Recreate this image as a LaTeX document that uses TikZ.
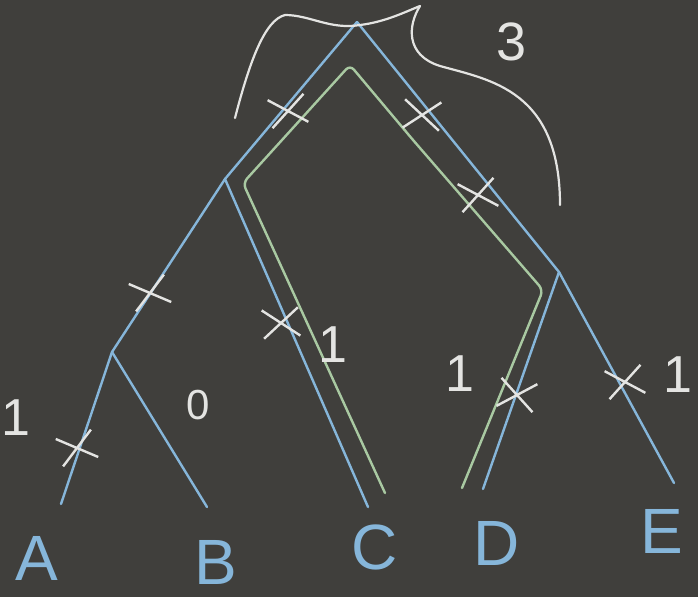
\documentclass[tikz,border=0pt]{standalone}
\usepackage{fontspec}
\setmainfont{Liberation Sans}
\usetikzlibrary{shapes.misc}
\definecolor{board}{HTML}{403F3C}
\definecolor{chalkblue}{HTML}{86B6DA}
\definecolor{chalkgreen}{HTML}{A9C9A2}
\definecolor{chalkwhite}{HTML}{E4E4E2}
\tikzset{
  blueline/.style={draw=chalkblue, line width=2.4pt, line cap=round, line join=round},
  greenline/.style={draw=chalkgreen, line width=2.4pt, line cap=round, line join=round, rounded corners=6pt},
  chalkx/.style={cross out, draw=chalkwhite, line width=2.4pt, minimum width=34pt, minimum height=26pt, inner sep=0pt},
  numlabel/.style={text=chalkwhite, font=\fontsize{52}{52}\selectfont, inner sep=0pt},
  leaflabel/.style={text=chalkblue, font=\fontsize{64}{64}\selectfont, inner sep=0pt},
  braceline/.style={draw=chalkwhite, line width=2.2pt, line cap=round}
}
\begin{document}
\begin{tikzpicture}[x=1pt, y=-1pt]
\fill[board] (0,0) rectangle (698,597);
\useasboundingbox (0,0) rectangle (698,597);
% tree coordinates
\coordinate (root) at (357,22);
\coordinate (abc) at (225,179);
\coordinate (ab) at (112,352);
\coordinate (de) at (559,272);
\coordinate (a) at (61,504);
\coordinate (b) at (207,507);
\coordinate (c) at (368,507);
\coordinate (d) at (483,489);
\coordinate (e) at (674,483);
% blue tree
\draw[blueline] (root) -- (abc) -- (ab) -- (a);
\draw[blueline] (ab) -- (b);
\draw[blueline] (abc) -- (c);
\draw[blueline] (root) -- (de) -- (d);
\draw[blueline] (de) -- (e);
% green path C..D
\coordinate (gc) at (385,493);
\coordinate (gl) at (243,183);
\coordinate (gt) at (350,65);
\coordinate (gm) at (413,140);
\coordinate (gr) at (543,290);
\coordinate (gd) at (462,488);
\draw[greenline] (gc) -- (gl) -- (gt) -- (gm) -- (gr) -- (gd);
% white brace / arc
\draw[braceline] (235,118) .. controls (250,60) and (265,20) .. (285,15)
  .. controls (310,15) and (330,30) .. (360,25)
  .. controls (385,22) and (405,12) .. (420,6);
\draw[braceline] (420,6) .. controls (408,25) and (405,55) .. (440,66)
  .. controls (490,80) and (560,90) .. (560,205);
% crosses
\node[chalkx, rotate=10] (x1) at (288,111) {};
\node[chalkx, rotate=-5] (x2) at (422,115) {};
\node[chalkx, rotate=10] (x3) at (478,195) {};
\node[chalkx, rotate=15] (x4) at (150,293) {};
\node[chalkx, rotate=5] (x5) at (281,323) {};
\node[chalkx, rotate=15] (x6) at (77,448) {};
\node[chalkx, rotate=-10] (x7) at (517,395) {};
\node[chalkx, rotate=10] (x8) at (625,382) {};
% number labels
\node[numlabel] (n1) at (16,418) {1};
\node[numlabel, font=\fontsize{42}{42}\selectfont] (n0) at (198,405) {0};
\node[numlabel] (n2) at (333,345) {1};
\node[numlabel] (n3) at (460,374) {1};
\node[numlabel] (n4) at (678,375) {1};
\node[numlabel, font=\fontsize{54}{54}\selectfont] (n5) at (512,42) {3};
% leaf labels
\node[leaflabel] (la) at (37,558) {A};
\node[leaflabel] (lb) at (216,562) {B};
\node[leaflabel] (lc) at (375,547) {C};
\node[leaflabel] (ld) at (497,543) {D};
\node[leaflabel] (le) at (662,531) {E};
\end{tikzpicture}
\end{document}
